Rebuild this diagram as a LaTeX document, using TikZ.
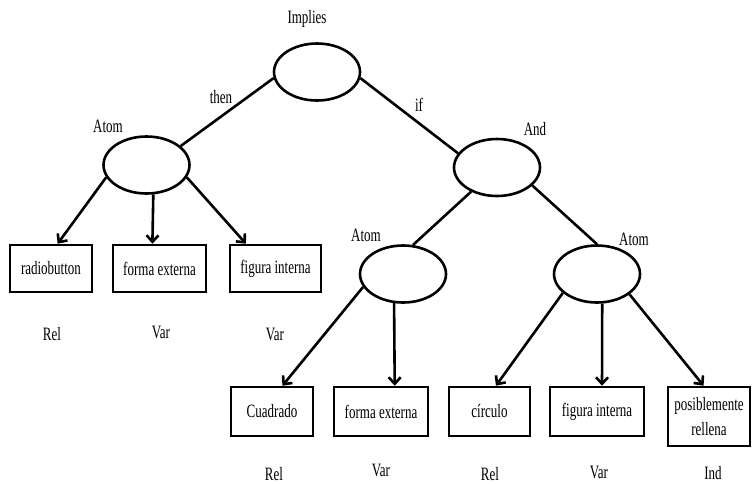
\documentclass[tikz,border=0pt]{standalone}
\usepackage{fontspec}
\setmainfont{Liberation Serif}
\usetikzlibrary{arrows.meta,shapes.geometric}

\newcommand{\tall}[1]{\scalebox{1}[1.45]{#1}}

\tikzset{
  oval/.style={draw,ellipse,line width=2.6pt,minimum width=86pt,minimum height=57pt,inner sep=0pt},
  leaf/.style={draw,rectangle,line width=2.6pt,minimum height=47pt,inner sep=0pt,align=center},
  tag/.style={inner sep=0pt},
  link/.style={line width=2.6pt},
  arr/.style={line width=2.6pt,-{Straight Barb[length=6.5pt,width=12pt]}},
}

\begin{document}
\begin{tikzpicture}[x=1pt,y=-1pt,font=\fontsize{13}{16}\selectfont]
  \useasboundingbox (0,0) rectangle (752,483);

  % ovals
  \node[oval] (implies) at (317,72) {};
  \node[oval] (atomA) at (146.5,165) {};
  \node[oval] (and) at (497,167.5) {};
  \node[oval] (atomB) at (403,274) {};
  \node[oval] (atomC) at (597,274) {};

  % boxes
  \node[leaf,minimum width=82pt] (radio) at (51,268.5) {\tall{radiobutton}};
  \node[leaf,minimum width=93pt] (formaA) at (159.5,268.5) {\tall{forma externa}};
  \node[leaf,minimum width=91pt] (figA) at (275.5,268.5) {\tall{figura interna}};
  \node[leaf,minimum width=82pt,minimum height=49pt] (cuad) at (272,411.5) {\tall{Cuadrado}};
  \node[leaf,minimum width=94pt,minimum height=49pt] (formaB) at (381,411.5) {\tall{forma externa}};
  \node[leaf,minimum width=81pt,minimum height=49pt] (circ) at (489.5,411.5) {\tall{círculo}};
  \node[leaf,minimum width=94pt,minimum height=49pt] (figB) at (597,411.5) {\tall{figura interna}};
  \node[leaf,minimum width=82pt,minimum height=59pt] (relle) at (709,416.5) {\tall{posiblemente}\\[7pt]\tall{rellena}};

  % tags
  \node[tag] (tImplies) at (307,19) {\tall{Implies}};
  \node[tag] (tAtomA) at (108,126) {\tall{Atom}};
  \node[tag] (tAnd) at (535,129) {\tall{And}};
  \node[tag] (tAtomB) at (366,235) {\tall{Atom}};
  \node[tag] (tAtomC) at (634,239) {\tall{Atom}};
  \node[tag] (tThen) at (221,97) {\tall{then}};
  \node[tag] (tIf) at (419,105) {\tall{if}};
  \node[tag] (kRadio) at (52,334) {\tall{Rel}};
  \node[tag] (kFormaA) at (161,332) {\tall{Var}};
  \node[tag] (kFigA) at (275,334) {\tall{Var}};
  \node[tag] (kCuad) at (274,474) {\tall{Rel}};
  \node[tag] (kFormaB) at (381,470) {\tall{Var}};
  \node[tag] (kCirc) at (490,474) {\tall{Rel}};
  \node[tag] (kFigB) at (599,472) {\tall{Var}};
  \node[tag] (kRelle) at (713,473) {\tall{Ind}};

  % lines
  \draw[link] (implies.188) -- (atomA.29);
  \draw[link] (implies.352) -- (and.160);
  \draw[link] (and.223) -- (atomB.71);
  \draw[link] (and.333) -- (atomC.90);

  % arrows
  \draw[arr] (atomA.197) -- (radio.75);
  \draw[arr] (atomA.283) -- (formaA.106);
  \draw[arr] (atomA.343) -- (figA.140);
  \draw[arr] (atomB.198) -- (cuad.68);
  \draw[arr] (atomB.253) -- (formaB.62);
  \draw[arr] (atomC.209) -- (circ.76);
  \draw[arr] (atomC.280) -- (figB.79);
  \draw[arr] (atomC.328) -- (relle.100);
\end{tikzpicture}
\end{document}
